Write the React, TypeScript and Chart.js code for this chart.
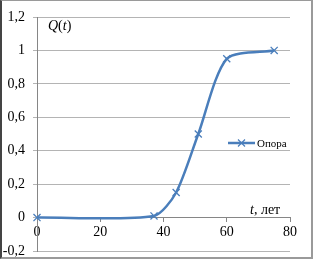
import React, { useEffect, useRef } from "react";
import { Chart, registerables } from "chart.js";

Chart.register(...registerables);

const tValues = [0, 37, 44, 51, 60, 75];
const qValues = [0, 0.01, 0.15, 0.5, 0.95, 1.0];
const seriesName = "Опора";

const BLUE = "#4A7EBB";
const SERIF = "'Liberation Serif', serif";

const fmt = (v: number) => String(Math.round(v * 10) / 10).replace(".", ",");

const overlay = {
  id: "overlay",
  afterDraw(chart: any) {
    const ctx = chart.ctx as CanvasRenderingContext2D;
    const area = chart.chartArea;
    ctx.save();
    ctx.fillStyle = "#000";
    ctx.textBaseline = "alphabetic";
    // Q(t)
    let x = area.left + 11;
    let y = area.top + 13;
    ctx.font = `italic 14px ${SERIF}`;
    ctx.fillText("Q", x, y);
    x += ctx.measureText("Q").width;
    ctx.font = `14px ${SERIF}`;
    ctx.fillText("(", x, y);
    x += ctx.measureText("(").width;
    ctx.font = `italic 14px ${SERIF}`;
    ctx.fillText("t", x, y);
    x += ctx.measureText("t").width;
    ctx.font = `14px ${SERIF}`;
    ctx.fillText(")", x, y);
    // t, лет
    x = 250;
    y = 214;
    ctx.font = `italic 14px ${SERIF}`;
    ctx.fillText("t", x, y);
    x += ctx.measureText("t").width;
    ctx.font = `14px ${SERIF}`;
    ctx.fillText(", лет", x, y);
    // legend
    const ly = 143;
    ctx.strokeStyle = BLUE;
    ctx.lineWidth = 2.5;
    ctx.beginPath();
    ctx.moveTo(228, ly);
    ctx.lineTo(255, ly);
    ctx.stroke();
    ctx.lineWidth = 1.2;
    ctx.beginPath();
    ctx.moveTo(238, ly - 3.5);
    ctx.lineTo(245, ly + 3.5);
    ctx.moveTo(238, ly + 3.5);
    ctx.lineTo(245, ly - 3.5);
    ctx.stroke();
    ctx.fillStyle = "#000";
    ctx.font = `11px ${SERIF}`;
    ctx.textBaseline = "middle";
    ctx.fillText(seriesName, 257, ly + 1);
    ctx.restore();
  },
};

export default function App() {
  const ref = useRef<HTMLCanvasElement>(null);
  useEffect(() => {
    document.body.style.margin = "0";
    const chart = new Chart(ref.current!, {
      type: "line",
      data: {
        datasets: [
          {
            label: seriesName,
            data: tValues.map((t, i) => ({ x: t, y: qValues[i] })),
            borderColor: BLUE,
            backgroundColor: BLUE,
            borderWidth: 2.5,
            tension: 0.25,
            pointStyle: "crossRot",
            pointRadius: 5,
            pointBorderWidth: 1.3,
            pointBorderColor: BLUE,
            clip: false as any,
          },
        ],
      },
      options: {
        animation: false,
        responsive: false,
        layout: { padding: { left: 0, top: 17, right: 23, bottom: 8 } },
        plugins: { legend: { display: false }, tooltip: { enabled: false } },
        scales: {
          x: {
            type: "linear",
            min: 0,
            max: 80,
            position: { y: 0 } as any,
            ticks: {
              stepSize: 20,
              color: "#000",
              font: { family: SERIF, size: 14 },
              padding: 2,
            },
            grid: {
              drawOnChartArea: false,
              tickLength: 4,
              color: "#868686",
            },
            border: { color: "#868686" },
            afterFit: (s: any) => {
              s.height = 0;
              s.paddingLeft = 0;
              s.paddingRight = 0;
            },
          },
          y: {
            min: -0.2,
            max: 1.2,
            ticks: {
              stepSize: 0.2,
              color: "#000",
              font: { family: SERIF, size: 14 },
              padding: 8,
              callback: (v: any) => fmt(Number(v)),
            },
            grid: { color: "#b4b4b4", tickLength: 4 },
            border: { color: "#868686" },
            afterFit: (s: any) => {
              s.width = 37;
              s.paddingTop = 0;
              s.paddingBottom = 0;
            },
          },
        },
      },
      plugins: [overlay],
    });
    return () => chart.destroy();
  }, []);
  return (
    <div
      style={{
        position: "fixed",
        left: 0,
        top: 0,
        width: 313,
        height: 259,
        boxSizing: "border-box",
        borderTop: "1px solid #9a9a9a",
        borderRight: "2px solid #9a9a9a",
        borderBottom: "2px solid #9a9a9a",
        borderLeft: "2px solid #444",
        background: "#fff",
        overflow: "hidden",
      }}
    >
      <canvas
        ref={ref}
        width={313}
        height={259}
        style={{ position: "absolute", left: -2, top: -1, width: 313, height: 259 }}
      />
    </div>
  );
}
